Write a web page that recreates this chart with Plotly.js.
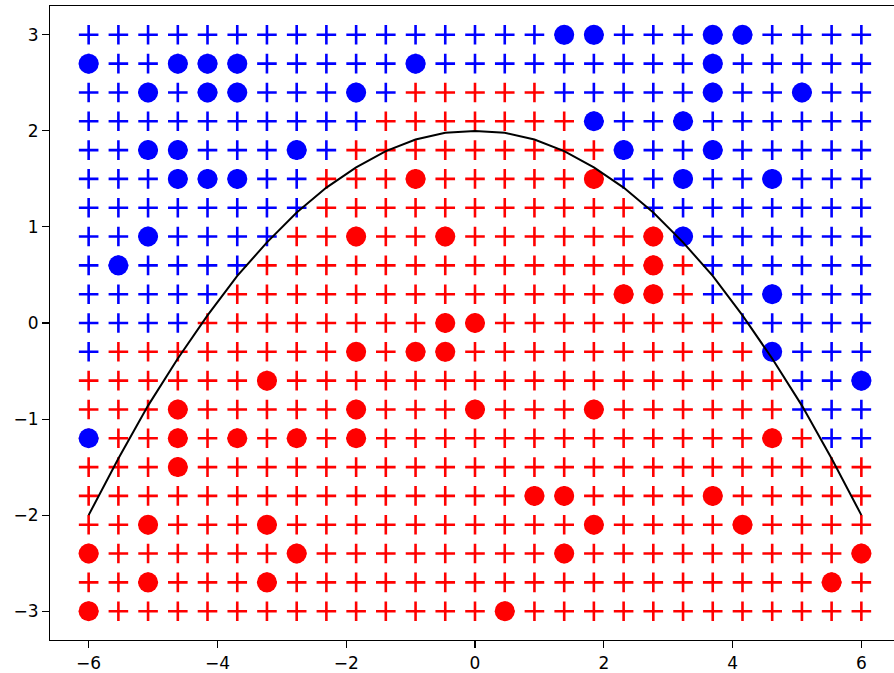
<!DOCTYPE html>
<html>
<head>
<meta charset="utf-8">
<script src="https://cdn.plot.ly/plotly-3.0.1.min.js"></script>
<style>
  html, body { margin: 0; padding: 0; overflow: hidden; background: #fff; }
  #chart { width: 960px; height: 673px; }
</style>
</head>
<body>
<div id="chart"></div>
<script>
// Grid x positions (27 columns) and y positions (21 rows)
const xValues = [-6, -5.538, -5.077, -4.615, -4.154, -3.692, -3.231, -2.769, -2.308,
  -1.846, -1.385, -0.923, -0.462, 0, 0.462, 0.923, 1.385, 1.846,
  2.308, 2.769, 3.231, 3.692, 4.154, 4.615, 5.077, 5.538, 6];
const yRowsTopDown = [3, 2.7, 2.4, 2.1, 1.8, 1.5, 1.2, 0.9, 0.6, 0.3, 0, -0.3, -0.6,
  -0.9, -1.2, -1.5, -1.8, -2.1, -2.4, -2.7, -3];

// Predicted class of each grid "+" (B = blue, R = red), rows from top (y=3) to bottom (y=-3)
const gridRows = [
  "BBBBBBBBB BBBBBBBBB BBBBBBBBB",
  "BBBBBBBBB BBBBBBBBB BBBBBBBBB",
  "BBBBBBBBB BBRRRRRBB BBBBBBBBB",
  "BBBBBBBBB BRRRRRRRB BBBBBBBBB",
  "BBBBBBBBB RRRRRRRRR BBBBBBBBB",
  "BBBBBBBBR RRRRRRRRR BBBBBBBBB",
  "BBBBBBBBR RRRRRRRRR RBBBBBBBB",
  "BBBBBBBRR RRRRRRRRR RRBBBBBBB",
  "BBBBBBRRR RRRRRRRRR RRRBBBBBB",
  "BBBBBRRRR RRRRRRRRR RRRBBBBBB",
  "BBBBRRRRR RRRRRRRRR RRRRBBBBB",
  "BRRRRRRRR RRRRRRRRR RRRRRBBBB",
  "RRRRRRRRR RRRRRRRRR RRRRRRBBB",
  "RRRRRRRRR RRRRRRRRR RRRRRRBBB",
  "RRRRRRRRR RRRRRRRRR RRRRRRRBB",
  "RRRRRRRRR RRRRRRRRR RRRRRRRRR",
  "RRRRRRRRR RRRRRRRRR RRRRRRRRR",
  "RRRRRRRRR RRRRRRRRR RRRRRRRRR",
  "RRRRRRRRR RRRRRRRRR RRRRRRRRR",
  "RRRRRRRRR RRRRRRRRR RRRRRRRRR",
  "RRRRRRRRR RRRRRRRRR RRRRRRRRR"
];

// Training points (circles)
const blueX = [1.385, 1.846, 3.692, 4.154,
  -6, -4.615, -4.154, -3.692, -0.923, 3.692,
  -5.077, -4.154, -3.692, -1.846, 3.692, 5.077,
  1.846, 3.231,
  -5.077, -4.615, -2.769, 2.308, 3.692,
  -4.615, -4.154, -3.692, 3.231, 4.615,
  -5.077, 3.231,
  -5.538,
  4.615,
  4.615,
  6,
  -6];
const blueY = [3, 3, 3, 3,
  2.7, 2.7, 2.7, 2.7, 2.7, 2.7,
  2.4, 2.4, 2.4, 2.4, 2.4, 2.4,
  2.1, 2.1,
  1.8, 1.8, 1.8, 1.8, 1.8,
  1.5, 1.5, 1.5, 1.5, 1.5,
  0.9, 0.9,
  0.6,
  0.3,
  -0.3,
  -0.6,
  -1.2];

const redX = [-0.923, 1.846,
  -1.846, -0.462, 2.769,
  2.769,
  2.308, 2.769,
  -0.462, 0,
  -1.846, -0.923, -0.462,
  -3.231,
  -4.615, -1.846, 0, 1.846,
  -4.615, -3.692, -2.769, -1.846, 4.615,
  -4.615,
  0.923, 1.385, 3.692,
  -5.077, -3.231, 1.846, 4.154,
  -6, -2.769, 1.385, 6,
  -5.077, -3.231, 5.538,
  -6, 0.462];
const redY = [1.5, 1.5,
  0.9, 0.9, 0.9,
  0.6,
  0.3, 0.3,
  0, 0,
  -0.3, -0.3, -0.3,
  -0.6,
  -0.9, -0.9, -0.9, -0.9,
  -1.2, -1.2, -1.2, -1.2, -1.2,
  -1.5,
  -1.8, -1.8, -1.8,
  -2.1, -2.1, -2.1, -2.1,
  -2.4, -2.4, -2.4, -2.4,
  -2.7, -2.7, -2.7,
  -3, -3];

// Decision boundary curve
const curveX = xValues;
const curveY = [-2.00, -1.41, -0.86, -0.37, 0.08, 0.49, 0.84, 1.15, 1.41, 1.62, 1.79, 1.91, 1.98,
  2.00, 1.98, 1.91, 1.79, 1.62, 1.41, 1.15, 0.84, 0.49, 0.08, -0.37, -0.86, -1.41, -2.00];

const xTicks = [-6, -4, -2, 0, 2, 4, 6];
const xTickText = ["−6", "−4", "−2", "0", "2", "4", "6"];
const yTicks = [-3, -2, -1, 0, 1, 2, 3];
const yTickText = ["−3", "−2", "−1", "0", "1", "2", "3"];

const BLUE = "#0000ff", RED = "#ff0000";

const gbx = [], gby = [], grx = [], gry = [];
gridRows.forEach((row, r) => {
  const s = row.replace(/ /g, "");
  for (let c = 0; c < s.length; c++) {
    if (s[c] === "B") { gbx.push(xValues[c]); gby.push(yRowsTopDown[r]); }
    else { grx.push(xValues[c]); gry.push(yRowsTopDown[r]); }
  }
});

const plusMarker = (col) => ({
  symbol: "cross-thin-open", size: 14, color: col,
  line: { color: col, width: 2.6 }
});

const traces = [
  { x: gbx, y: gby, type: "scatter", mode: "markers", marker: plusMarker(BLUE), hoverinfo: "skip" },
  { x: grx, y: gry, type: "scatter", mode: "markers", marker: plusMarker(RED), hoverinfo: "skip" },
  { x: blueX, y: blueY, type: "scatter", mode: "markers",
    marker: { symbol: "circle", size: 20, color: BLUE, line: { width: 0 } } },
  { x: redX, y: redY, type: "scatter", mode: "markers",
    marker: { symbol: "circle", size: 20, color: RED, line: { width: 0 } } },
  { x: curveX, y: curveY, type: "scatter", mode: "lines",
    line: { color: "#000000", width: 2 } }
];

const axisCommon = {
  showgrid: false, zeroline: false, showline: true, mirror: true,
  linecolor: "#000", linewidth: 1.1, ticks: "outside", ticklen: 7,
  tickwidth: 1.1, tickcolor: "#000",
  tickfont: { family: "DejaVu Sans", size: 17, color: "#000" }
};

const layout = {
  width: 960, height: 673,
  margin: { l: 50, r: 60, t: 6, b: 33 },
  showlegend: false,
  paper_bgcolor: "#fff", plot_bgcolor: "#fff",
  xaxis: Object.assign({}, axisCommon, {
    range: [-6.6, 6.6], tickmode: "array", tickvals: xTicks, ticktext: xTickText
  }),
  yaxis: Object.assign({}, axisCommon, {
    range: [-3.3, 3.3], tickmode: "array", tickvals: yTicks, ticktext: yTickText
  })
};

Plotly.newPlot("chart", traces, layout, { staticPlot: true, displayModeBar: false });
</script>
</body>
</html>
